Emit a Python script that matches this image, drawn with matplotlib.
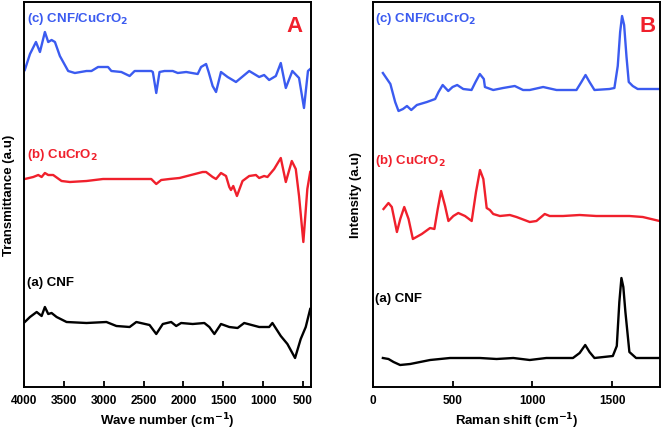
import numpy as np
import matplotlib
matplotlib.use("Agg")
import matplotlib.pyplot as plt

plt.rcParams['font.family'] = ['Liberation Sans', 'DejaVu Sans']
plt.rcParams['font.weight'] = 'bold'
plt.rcParams['mathtext.default'] = 'bf'

# ---- FTIR (panel A), transmittance in arbitrary units ----
ftir_c_wn = [3990, 3925, 3850, 3800, 3738, 3696, 3654, 3612, 3550, 3446, 3362, 3216, 3154, 3071,
             2946, 2904, 2779, 2675, 2612, 2404, 2384, 2341, 2300, 2238, 2134, 2071, 1966, 1821,
             1779, 1716, 1684, 1634, 1591, 1529, 1446, 1341, 1175, 1050, 988, 925, 841, 779,
             716, 634, 550, 488, 438, 410]
ftir_c = [317, 333, 345, 335, 355, 345, 347, 345, 331, 316, 314, 316, 316, 320,
          320, 316, 315, 311, 316, 316, 315, 294, 315, 316, 316, 314, 315, 313,
          320, 323, 315, 301, 295, 315, 310, 305, 316, 310, 312, 307, 311, 324,
          299, 316, 309, 279, 316, 318]

ftir_b_wn = [3990, 3884, 3821, 3779, 3738, 3696, 3634, 3529, 3425, 3216, 3009, 2591, 2404, 2341,
             2279, 2175, 2050, 1759, 1716, 1634, 1591, 1529, 1466, 1425, 1404, 1375, 1329, 1259,
             1175, 1091, 1050, 988, 946, 862, 779, 716, 641, 591, 550, 496, 446, 410]
ftir_b = [208, 210, 212, 210, 214, 212, 212, 206, 205, 206, 208, 208, 208, 203,
          207, 208, 209, 215, 215, 210, 208, 214, 211, 200, 197, 201, 191, 206,
          211, 212, 209, 211, 210, 218, 229, 205, 226, 218, 191, 145, 198, 215]

ftir_a_wn = [3990, 3925, 3841, 3779, 3738, 3696, 3654, 3591, 3466, 3216, 2966, 2841, 2675, 2591,
             2425, 2341, 2259, 2154, 2091, 2029, 1884, 1738, 1675, 1612, 1529, 1425, 1321, 1238,
             1050, 925, 884, 779, 696, 600, 529, 466, 410]
ftir_a = [65, 70, 75, 71, 80, 73, 74, 70, 65, 64, 65, 61, 60, 65,
          62, 53, 63, 65, 61, 64, 63, 64, 60, 53, 63, 60, 59, 64,
          60, 60, 64, 51, 43, 29, 48, 60, 78]

# ---- Raman (panel B), intensity in arbitrary units ----
raman_c_x = [62, 109, 139, 160, 188, 213, 240, 275, 338, 390, 411, 437, 472, 499, 528, 566, 618,
             643, 670, 695, 702, 754, 816, 889, 941, 983, 1067, 1151, 1276, 1307, 1333, 1358,
             1389, 1483, 1514, 1535, 1550, 1562, 1575, 1590, 1604, 1629, 1660, 1796]
raman_c = [314, 303, 285, 276, 278, 281, 277, 282, 285, 288, 295, 302, 296, 300, 302, 298, 297,
           305, 313, 308, 300, 297, 299, 301, 297, 297, 300, 297, 297, 305, 312, 305,
           297, 298, 299, 321, 355, 371, 362, 330, 305, 301, 298, 298]

raman_b_x = [66, 97, 118, 150, 171, 196, 223, 250, 306, 358, 385, 406, 427, 452, 473, 504, 535,
             577, 619, 646, 671, 692, 713, 733, 754, 796, 858, 900, 983, 1025, 1077, 1108, 1192,
             1296, 1400, 1504, 1608, 1692, 1797]
raman_b = [178, 184, 180, 155, 168, 180, 168, 148, 153, 159, 158, 178, 196, 181, 166, 171, 174,
           171, 166, 195, 217, 208, 179, 177, 173, 171, 172, 170, 165, 166, 173, 171, 171,
           172, 171, 171, 171, 170, 166]

raman_a_x = [62, 97, 129, 170, 233, 358, 483, 671, 775, 880, 983, 1087, 1254, 1296, 1331, 1358,
             1389, 1504, 1529, 1545, 1558, 1570, 1583, 1608, 1650, 1796]
raman_a = [29, 28, 25, 22, 23, 27, 29, 29, 28, 29, 27, 29, 29, 34, 42, 35,
           29, 31, 41, 85, 109, 100, 75, 35, 29, 29]

blue = '#3b5bf0'
red = '#f0202c'
lw = 1.7

fig = plt.figure(figsize=(6.63, 4.35), dpi=100)
ax1 = fig.add_axes([24 / 663, 47 / 435, 287 / 663, 385 / 435])
ax2 = fig.add_axes([373 / 663, 47 / 435, 287 / 663, 385 / 435])

ax1.plot(ftir_c_wn, ftir_c, color=blue, lw=lw)
ax1.plot(ftir_b_wn, ftir_b, color=red, lw=lw)
ax1.plot(ftir_a_wn, ftir_a, color='black', lw=lw)
ax1.set_xlim(4000, 400)
ax1.set_xticks([4000, 3500, 3000, 2500, 2000, 1500, 1000, 500])
ax1.set_xlabel('Wave number (cm$^{-1}$)', fontsize=9.5, fontweight='bold', labelpad=3)
ax1.set_ylabel('Transmittance (a.u)', fontsize=9.5, fontweight='bold')
ax1.yaxis.set_label_coords(-0.031, 0.5)

ax2.plot(raman_c_x, raman_c, color=blue, lw=lw)
ax2.plot(raman_b_x, raman_b, color=red, lw=lw)
ax2.plot(raman_a_x, raman_a, color='black', lw=lw)
ax2.set_xlim(0, 1800)
ax2.set_xticks([0, 500, 1000, 1500])
ax2.set_xlabel('Raman shift (cm$^{-1}$)', fontsize=9.5, fontweight='bold', labelpad=3)
ax2.set_ylabel('Intensity (a.u)', fontsize=9.5, fontweight='bold')
ax2.yaxis.set_label_coords(-0.038, 0.5)

for ax in (ax1, ax2):
    ax.set_ylim(0, 385)
    ax.set_yticks([])
    ax.tick_params(axis='x', direction='in', length=4, width=1.3, labelsize=8.5, pad=5)
    for lab in ax.get_xticklabels():
        lab.set_fontweight('bold')
    for sp in ax.spines.values():
        sp.set_linewidth(1.4)

ax1.text(0.01, 0.958, '(c) CNF/CuCrO$_2$', transform=ax1.transAxes, color=blue,
         fontsize=9.5, fontweight='bold', va='center')
ax1.text(0.01, 0.605, '(b) CuCrO$_2$', transform=ax1.transAxes, color=red,
         fontsize=9.5, fontweight='bold', va='center')
ax1.text(0.01, 0.273, '(a) CNF', transform=ax1.transAxes, color='black',
         fontsize=9.5, fontweight='bold', va='center')
ax1.text(0.944, 0.94, 'A', transform=ax1.transAxes, color=red,
         fontsize=16, fontweight='bold', ha='center', va='center')

ax2.text(0.008, 0.958, '(c) CNF/CuCrO$_2$', transform=ax2.transAxes, color=blue,
         fontsize=9.5, fontweight='bold', va='center')
ax2.text(0.008, 0.59, '(b) CuCrO$_2$', transform=ax2.transAxes, color=red,
         fontsize=9.5, fontweight='bold', va='center')
ax2.text(0.008, 0.231, '(a) CNF', transform=ax2.transAxes, color='black',
         fontsize=9.5, fontweight='bold', va='center')
ax2.text(0.956, 0.94, 'B', transform=ax2.transAxes, color=red,
         fontsize=16, fontweight='bold', ha='center', va='center')

fig.savefig('out.png', dpi=100)
